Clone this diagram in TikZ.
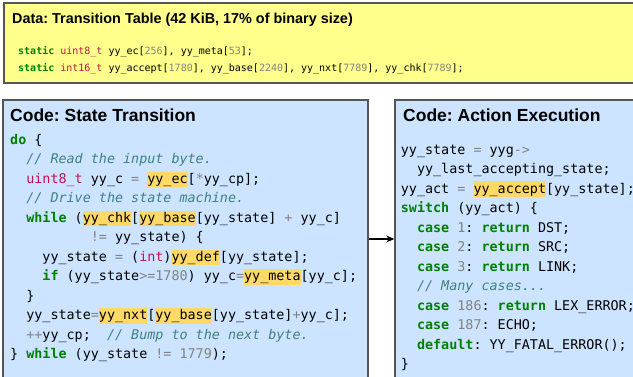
\documentclass[tikz,border=0pt]{standalone}
\usepackage{fontspec}
\setmainfont{Liberation Sans}
\setmonofont{DejaVu Sans Mono}[ItalicFont={DejaVu Sans Mono Oblique},BoldFont={DejaVu Sans Mono Bold},BoldItalicFont={DejaVu Sans Mono Bold Oblique}]
\usetikzlibrary{arrows.meta}
\frenchspacing

\definecolor{datafill}{RGB}{255,255,140}
\definecolor{codefill}{RGB}{204,228,255}
\definecolor{framecol}{RGB}{85,85,85}
\definecolor{hlcol}{RGB}{255,217,102}
\definecolor{kwcol}{RGB}{0,128,0}
\definecolor{tycol}{RGB}{190,20,80}
\definecolor{numcol}{RGB}{130,130,130}
\definecolor{cmcol}{RGB}{64,128,128}

% syntax colouring helpers
\newcommand\ckw[1]{\textcolor{kwcol}{\bfseries #1}}
\newcommand\cty[1]{\textcolor{tycol}{#1}}
\newcommand\cnum[1]{\textcolor{numcol}{#1}}
\newcommand\ccom[1]{\textcolor{cmcol}{\itshape #1}}
\newcommand\hlt[1]{{\setlength{\fboxsep}{0pt}\colorbox{hlcol}{\rule[-4pt]{0pt}{15.6pt}#1}}}

\newcommand\codefont{\fontsize{13.4}{16}\selectfont\ttfamily}
\newcommand\smallcode{\fontsize{10}{12}\selectfont\ttfamily}

\begin{document}
\begin{tikzpicture}[x=1pt,y=-1pt,
  panel/.style={draw=framecol, line width=1.5pt, inner sep=0pt},
  datapanel/.style={panel, fill=datafill},
  codepanel/.style={panel, fill=codefill},
  title/.style={anchor=base west, inner sep=0pt, font=\fontsize{17.5}{20}\selectfont\bfseries},
  datatitle/.style={title, font=\fontsize{14.4}{17}\selectfont\bfseries},
  codeline/.style={anchor=base west, inner sep=0pt, font=\codefont},
  dataline/.style={anchor=base west, inner sep=0pt, font=\smallcode},
  flow/.style={line width=1.2pt, -{Stealth[length=8pt,width=7pt]}}]
\useasboundingbox (0,0) rectangle (633,376);
\clip (0,0) rectangle (633,376);

% panels
\node[datapanel, minimum width=636pt, minimum height=80pt] (data) at (322,43) {};
\node[codepanel, minimum width=365pt, minimum height=278pt] (state) at (185.5,239) {};
\node[codepanel, minimum width=245pt, minimum height=278pt] (action) at (517.5,239) {};

% data panel
\node[datatitle] (dtitle) at (12,23) {Data: Transition Table (42 KiB, 17\% of binary size)};
\node[dataline] (d1) at (18,54) {\ckw{static} \cty{uint8\_t} yy\_ec[\cnum{256}], yy\_meta[\cnum{53}];};
\node[dataline] (d2) at (18,71.5) {\ckw{static} \cty{int16\_t} yy\_accept[\cnum{1780}], yy\_base[\cnum{2240}], yy\_nxt[\cnum{7789}], yy\_chk[\cnum{7789}];};

% state transition panel
\node[title] (stitle) at (10,121.7) {Code: State Transition};
\node[codeline] (s1)  at (10,144.3) {\ckw{do} \{};
\node[codeline] (s2)  at (10,163.8) {~~\ccom{// Read the input byte.}};
\node[codeline] (s3)  at (10,183.3) {~~\cty{uint8\_t} yy\_c \cnum{=} \hlt{yy\_ec}[\cnum{*}yy\_cp];};
\node[codeline] (s4)  at (10,202.8) {~~\ccom{// Drive the state machine.}};
\node[codeline] (s5)  at (10,222.3) {~~\ckw{while} (\hlt{yy\_chk}[\hlt{yy\_base}[yy\_state] \cnum{+} yy\_c]};
\node[codeline] (s6)  at (10,241.8) {~~~~~~~~~~\cnum{!=} yy\_state) \{};
\node[codeline] (s7)  at (10,261.3) {~~~~yy\_state \cnum{=} (\cty{int})\hlt{yy\_def}[yy\_state];};
\node[codeline] (s8)  at (10,280.8) {~~~~\ckw{if} (yy\_state\cnum{>=1780}) yy\_c\cnum{=}\hlt{yy\_meta}[yy\_c];};
\node[codeline] (s9)  at (10,300.3) {~~\}};
\node[codeline] (s10) at (10,319.8) {~~yy\_state\cnum{=}\hlt{yy\_nxt}[\hlt{yy\_base}[yy\_state]\cnum{+}yy\_c];};
\node[codeline] (s11) at (10,339.3) {~~\cnum{++}yy\_cp;~~\ccom{// Bump to the next byte.}};
\node[codeline] (s12) at (10,358.8) {\} \ckw{while} (yy\_state \cnum{!=} \cnum{1779});};

% action execution panel
\node[title] (atitle) at (403,121.7) {Code: Action Execution};
\node[codeline] (a1)  at (400.7,154) {yy\_state \cnum{=} yyg\cnum{->}};
\node[codeline] (a2)  at (400.7,173.5) {~~yy\_last\_accepting\_state;};
\node[codeline] (a3)  at (400.7,193) {yy\_act \cnum{=} \hlt{yy\_accept}[yy\_state];};
\node[codeline] (a4)  at (400.7,212.5) {\ckw{switch} (yy\_act) \{};
\node[codeline] (a5)  at (400.7,232) {~~\ckw{case} \cnum{1}: \ckw{return} DST;};
\node[codeline] (a6)  at (400.7,251.5) {~~\ckw{case} \cnum{2}: \ckw{return} SRC;};
\node[codeline] (a7)  at (400.7,271) {~~\ckw{case} \cnum{3}: \ckw{return} LINK;};
\node[codeline] (a8)  at (400.7,290.5) {~~\ccom{// Many cases...}};
\node[codeline] (a9)  at (400.7,310) {~~\ckw{case} \cnum{186}: \ckw{return} LEX\_ERROR;};
\node[codeline] (a10) at (400.7,329.5) {~~\ckw{case} \cnum{187}: ECHO;};
\node[codeline] (a11) at (400.7,349) {~~\ckw{default}: YY\_FATAL\_ERROR();};
\node[codeline] (a12) at (400.7,368.5) {\}};

% control flow between the panels
\draw[flow] (state.east) -- (action.west);
\end{tikzpicture}
\end{document}
